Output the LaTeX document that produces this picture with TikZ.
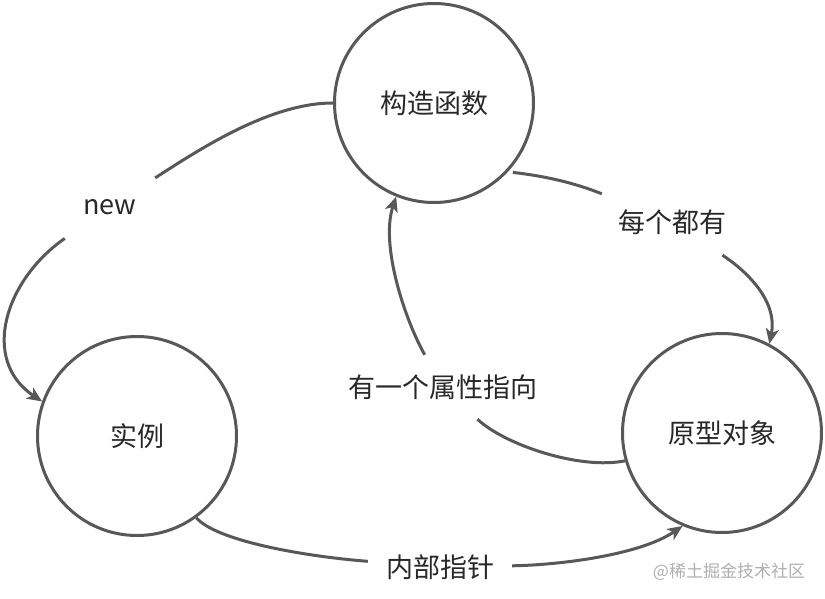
\documentclass[tikz,border=0pt]{standalone}
\usepackage{fontspec}
\setmainfont{Noto Sans CJK SC}
\usetikzlibrary{arrows.meta}
\definecolor{linec}{RGB}{88,88,88}
\definecolor{textc}{RGB}{40,40,40}
\definecolor{wmc}{RGB}{175,175,175}
\begin{document}
\begin{tikzpicture}[x=1pt,y=-1pt,
  circ/.style={circle,draw=linec,line width=3pt,minimum size=199pt,inner sep=0pt,
    font=\fontsize{27pt}{30pt}\selectfont,text=textc},
  lbl/.style={inner sep=0pt,font=\fontsize{27pt}{30pt}\selectfont,text=textc},
  plain/.style={draw=linec,line width=3pt},
  conn/.style={plain,-{Stealth[length=15pt,width=13pt,inset=4pt]}}]
\fill[white] (0,0) rectangle (825,599);
\useasboundingbox (0,0) rectangle (825,599);

\node[circ] (A) at (434,103) {构造函数};
\node[circ] (B) at (137,436) {实例};
\node[circ] (C) at (722,433) {原型对象};

\node[lbl,minimum width=90pt,minimum height=64pt] (lnew) at (110,207) {new};
\node[lbl,minimum width=140pt,minimum height=66pt] (lmei) at (672,222) {每个都有};
\node[lbl,minimum width=200pt,minimum height=64pt] (lattr) at (443,387) {有一个属性指向};
\node[lbl,minimum width=144pt,minimum height=40pt] (lptr) at (440,567) {内部指针};
\node[font=\fontsize{17pt}{20pt}\selectfont,text=wmc,inner sep=0pt] (wm) at (729,572) {@稀土掘金技术社区};

% new
\draw[plain] (A.180) .. controls (270,103) and (200,149) .. (lnew);
\draw[conn] (lnew) .. controls (5,280) and (-20,360) .. (B.160);
% 每个都有
\draw[plain,shorten <=5pt] (A.-43) .. controls (545,176) and (575,183) .. (lmei);
\draw[conn] (lmei) .. controls (745,270) and (778,300) .. (C.62);
% 有一个属性指向
\draw[plain] (C.196) .. controls (580,470) and (505,445) .. (lattr);
\draw[conn] (lattr) .. controls (405,320) and (380,245) .. (A.248);
% 内部指针
\draw[plain] (B.-54) .. controls (215,540) and (300,556) .. (lptr);
\draw[conn] (lptr) .. controls (560,565) and (640,555) .. (C.247);
\end{tikzpicture}
\end{document}
